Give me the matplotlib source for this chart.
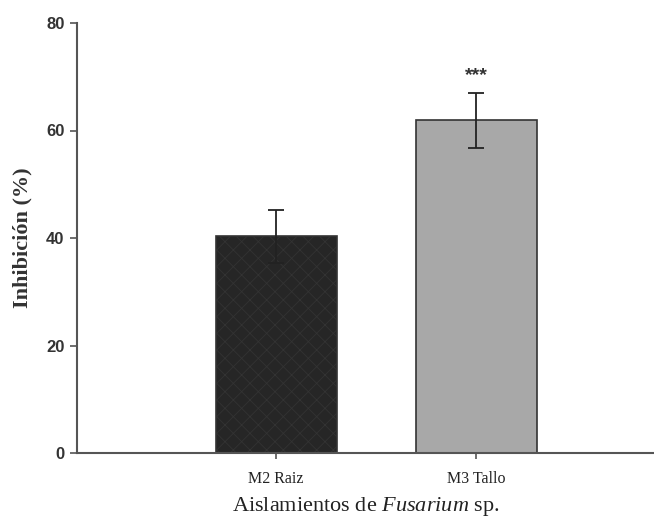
import matplotlib as mpl
mpl.rcParams['mathtext.fontset'] = 'custom'
mpl.rcParams['mathtext.rm'] = 'Liberation Serif'
mpl.rcParams['mathtext.it'] = 'Liberation Serif:italic'
mpl.rcParams['hatch.linewidth'] = 0.6
mpl.rcParams['hatch.color'] = '#555555'
import matplotlib.pyplot as plt

categories = ["M2 Raiz", "M3 Tallo"]
values = [40.3, 61.9]
errors = [4.9, 5.1]
signif = ["", "***"]
yticks = [0, 20, 40, 60, 80]

fig = plt.figure(figsize=(6.54, 5.21), dpi=100)
ax = fig.add_axes([77/654, 1-453/521, 1-77/654, (453-23)/521])

x = list(range(len(categories)))
face = ['#262626', '#a8a8a8']
hatches = ['xx', None]
for i in x:
    ax.bar(i, values[i], width=0.605, color=face[i], edgecolor='#333333',
           linewidth=1.2, hatch=hatches[i], zorder=2)
    ax.errorbar(i, values[i], yerr=errors[i], fmt='none', ecolor='#222222',
                elinewidth=1.3, capsize=6, capthick=1.3, zorder=3)
    if signif[i]:
        ax.text(i, values[i] + errors[i] + 1.6, signif[i], ha='center', va='bottom',
                fontsize=14, fontweight='bold', color='#333333', family='Liberation Sans')

ax.set_xlim(-0.995, 1.89)
ax.set_ylim(0, 80)
ax.set_yticks(yticks)
ax.set_yticklabels([str(t) for t in yticks], family='Liberation Sans',
                   fontweight='bold', fontsize=12, color='#333333')
ax.set_xticks(x)
ax.set_xticklabels(categories, family='Liberation Serif', fontsize=11.5, color='#222222')
for s in ['top', 'right']:
    ax.spines[s].set_visible(False)
for s in ['left', 'bottom']:
    ax.spines[s].set_color('#555555')
    ax.spines[s].set_linewidth(1.5)
ax.tick_params(axis='y', direction='out', length=5, width=1.2, color='#555555', pad=4)
ax.tick_params(axis='x', direction='out', length=4, width=1.2, color='#555555', pad=9)

ax.set_ylabel("Inhibición (%)", family='Liberation Serif', fontweight='bold',
              fontsize=16, color='#333333', labelpad=10)
ax.set_xlabel(r"Aislamientos de $\mathit{Fusarium}$ sp.", fontsize=16,
              family='Liberation Serif', color='#222222', labelpad=6)

fig.savefig("out.png", dpi=100, facecolor='white')
